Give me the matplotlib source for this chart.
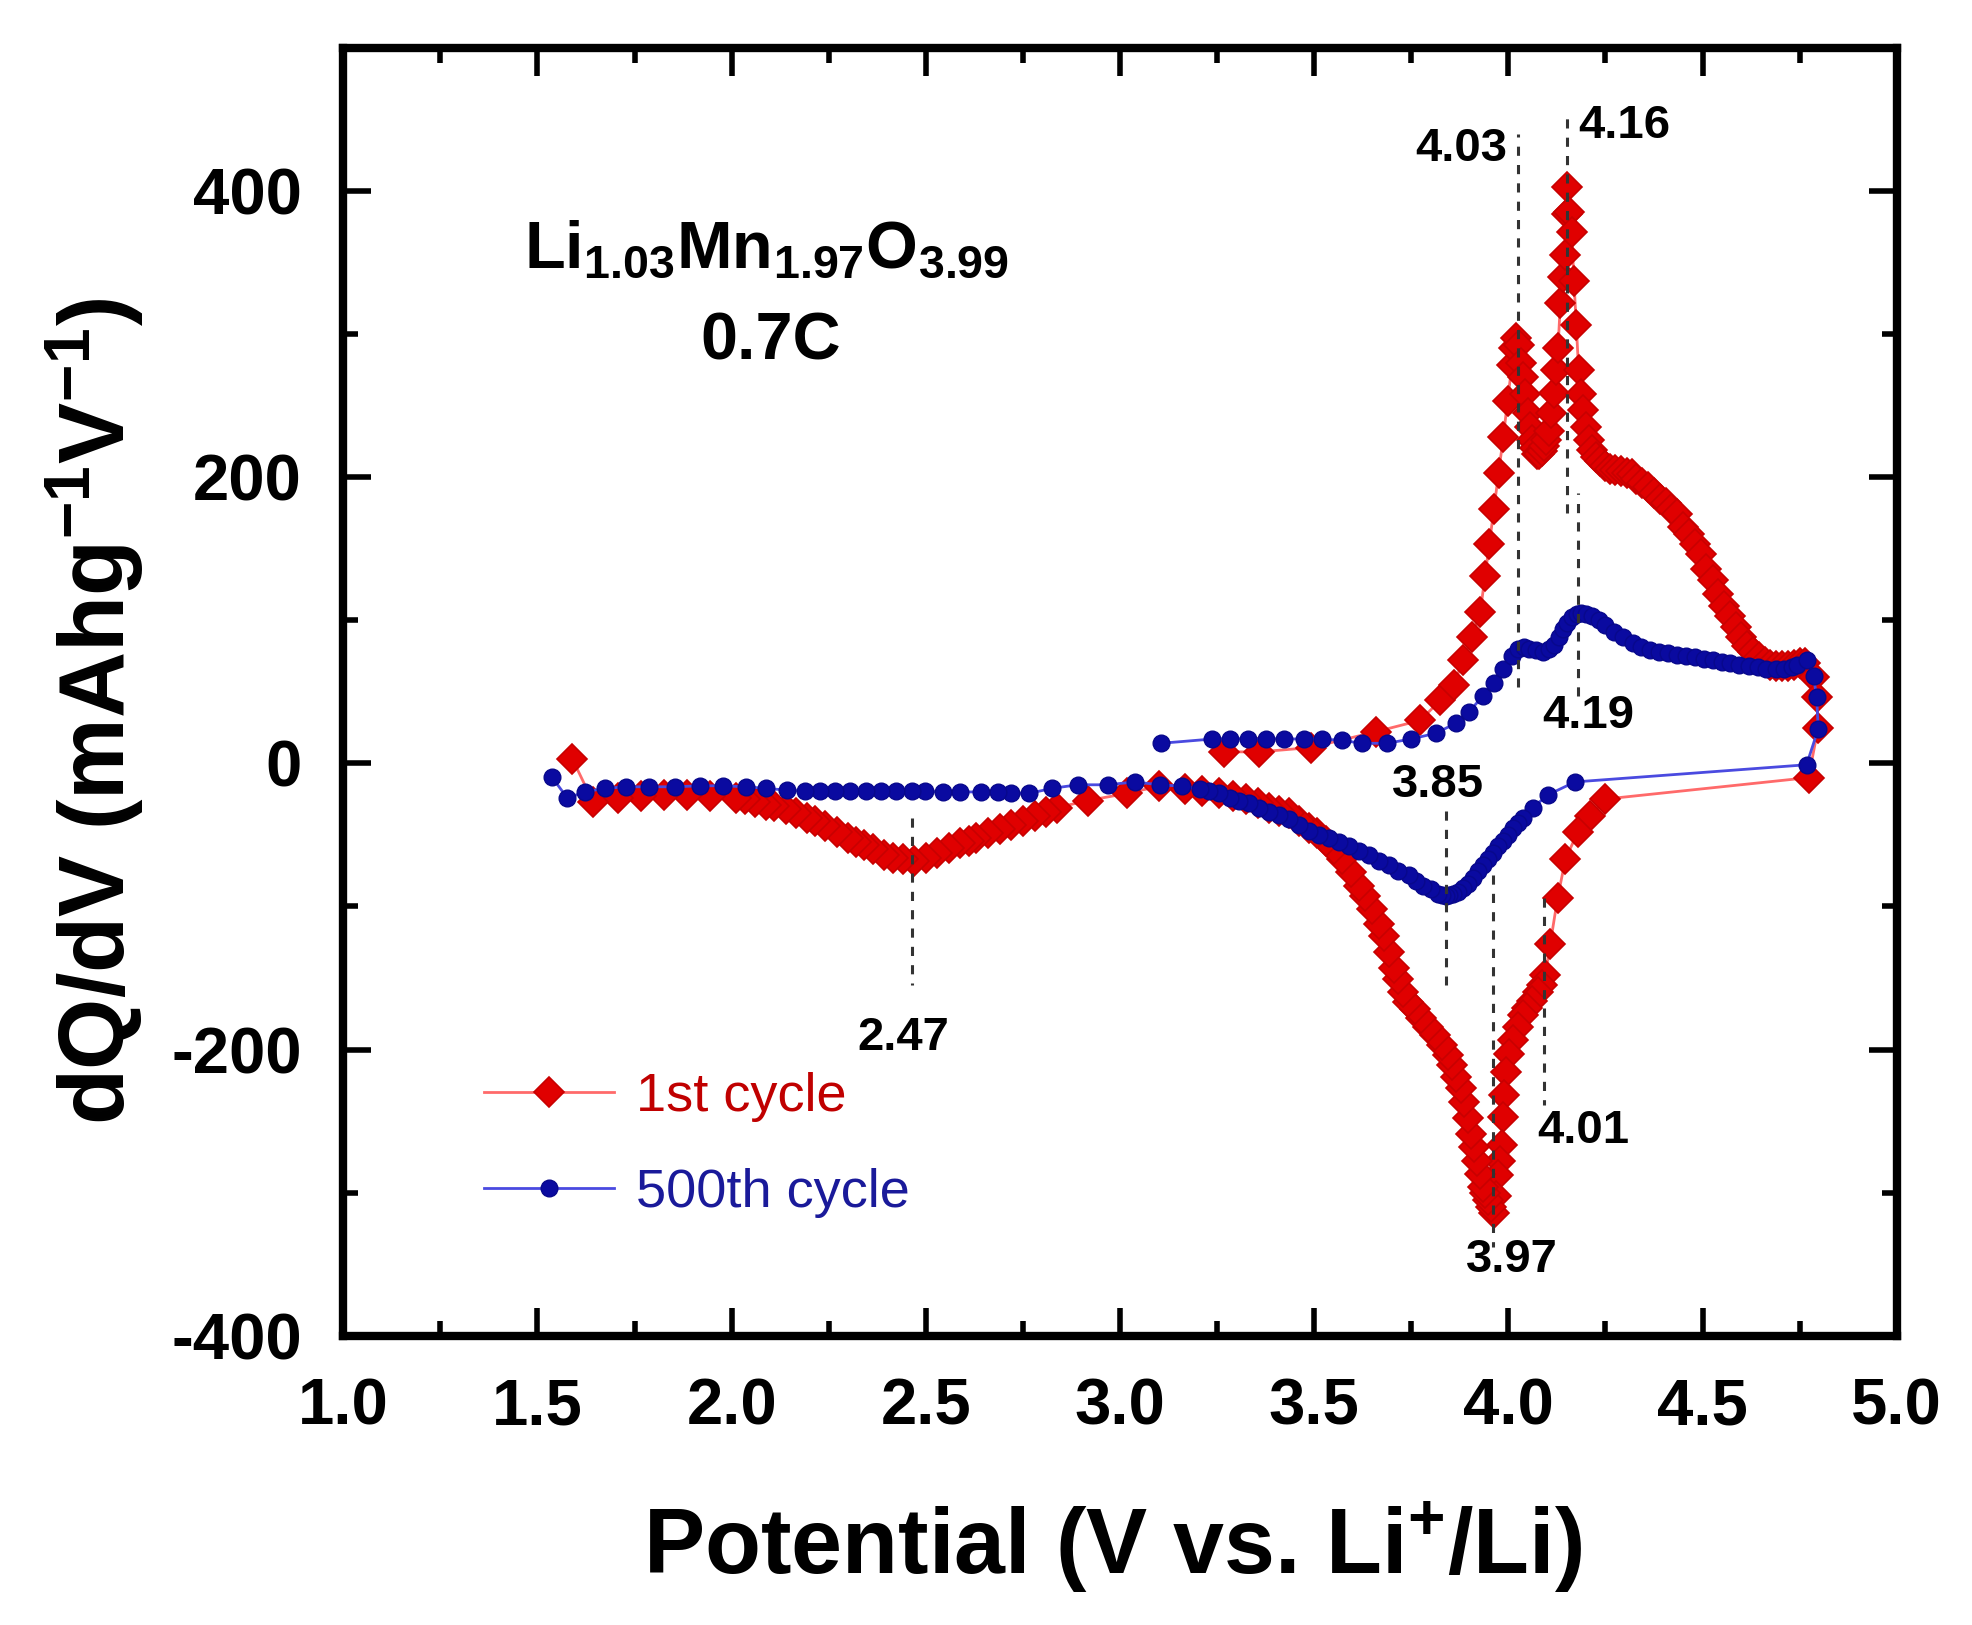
import matplotlib
matplotlib.use('Agg')
import matplotlib.pyplot as plt
from matplotlib.ticker import MultipleLocator

plt.rcParams['font.family'] = ['Liberation Sans', 'DejaVu Sans']
plt.rcParams['mathtext.default'] = 'regular'

# ---------------- data ----------------
# 1st cycle: charge branch then discharge branch
c1_v = [3.267, 3.359, 3.491, 3.658, 3.773, 3.825, 3.860, 3.883, 3.906, 3.928,
        3.940, 3.951, 3.963, 3.975, 3.987, 3.998, 4.009, 4.015, 4.021, 4.027,
        4.033, 4.038, 4.044, 4.050, 4.056, 4.062, 4.068, 4.074, 4.080, 4.086,
        4.092, 4.098, 4.105, 4.111, 4.117, 4.123, 4.128, 4.134, 4.140, 4.145,
        4.150, 4.152, 4.157, 4.163, 4.169, 4.175, 4.181, 4.186, 4.192, 4.200,
        4.208, 4.215, 4.225, 4.235, 4.248, 4.261, 4.275, 4.290, 4.305, 4.318,
        4.330, 4.345, 4.360, 4.376, 4.390, 4.405, 4.420, 4.434, 4.450, 4.465,
        4.481, 4.495, 4.510, 4.527, 4.540, 4.555, 4.571, 4.585, 4.600, 4.615,
        4.630, 4.645, 4.660, 4.675, 4.690, 4.705, 4.720, 4.735, 4.750, 4.765,
        4.786, 4.794, 4.798, 4.773,
        4.249, 4.211, 4.179, 4.147, 4.127, 4.108, 4.095, 4.086, 4.076, 4.060,
        4.048, 4.038, 4.025, 4.012, 4.002, 3.993, 3.989, 3.987, 3.984, 3.979,
        3.974, 3.968, 3.963, 3.955, 3.948, 3.941, 3.935, 3.928, 3.920, 3.912,
        3.904, 3.895, 3.886, 3.877, 3.866, 3.855, 3.844, 3.828, 3.811, 3.794,
        3.776, 3.759, 3.742, 3.730, 3.717, 3.705, 3.692, 3.679, 3.666, 3.649,
        3.632, 3.615, 3.594, 3.572, 3.551, 3.530, 3.508, 3.487, 3.460, 3.435,
        3.410, 3.384, 3.355, 3.325, 3.290, 3.256, 3.210, 3.167, 3.100, 3.019,
        2.917, 2.838, 2.810, 2.780, 2.750, 2.719, 2.690, 2.660, 2.630, 2.610,
        2.587, 2.560, 2.530, 2.500, 2.470, 2.440, 2.415, 2.391, 2.365, 2.340,
        2.320, 2.300, 2.270, 2.240, 2.215, 2.194, 2.165, 2.140, 2.110, 2.088,
        2.060, 2.035, 2.010, 1.944, 1.885, 1.826, 1.767, 1.708, 1.643, 1.590]
c1_q = [8, 8, 11, 22, 30, 44, 55, 72, 88, 106,
        131, 153, 178, 203, 228, 253, 278, 290, 297, 292,
        280, 270, 258, 245, 235, 226, 220, 216, 216, 218,
        222, 226, 232, 245, 259, 275, 290, 322, 340, 355,
        384, 403, 385, 371, 337, 306, 275, 258, 247, 235,
        226, 219, 214, 211, 208, 206, 205, 204, 203, 202,
        199, 196, 193, 189, 185, 182, 178, 174, 165, 160,
        153, 146, 136, 128, 118, 110, 103, 95, 88, 82,
        78, 74, 71, 69, 68, 68, 68, 69, 70, 70,
        60, 46, 25, -10,
        -25, -37, -48, -67, -94, -126, -148, -155, -160, -166,
        -171, -176, -184, -193, -203, -216, -232, -247, -267, -278,
        -288, -302, -314, -310, -305, -300, -296, -287, -278, -268,
        -259, -248, -237, -227, -219, -211, -204, -197, -190, -184,
        -178, -172, -167, -160, -151, -143, -132, -121, -112, -102,
        -93, -86, -76, -67, -60, -54, -49, -45, -40, -35,
        -33, -31, -28, -25, -23, -21, -19, -18, -16, -21,
        -26, -31, -34, -37, -40, -43, -46, -49, -52, -54,
        -56, -59, -63, -66, -68, -67, -66, -64, -60, -57,
        -55, -52, -48, -44, -40, -38, -35, -32, -30, -29,
        -27, -25, -24, -23, -22, -22, -23, -24, -27, 3]

# 500th cycle: charge branch then discharge branch
c500_v = [3.106, 3.238, 3.284, 3.330, 3.376, 3.422, 3.474, 3.520, 3.572, 3.623,
          3.687, 3.750, 3.813, 3.865, 3.899, 3.934, 3.963, 3.986, 4.009, 4.026,
          4.040, 4.054, 4.070, 4.089, 4.105, 4.118, 4.130, 4.141, 4.152, 4.164,
          4.176, 4.187, 4.200, 4.216, 4.233, 4.250, 4.273, 4.296, 4.320, 4.342,
          4.365, 4.388, 4.410, 4.435, 4.457, 4.480, 4.503, 4.526, 4.550, 4.572,
          4.595, 4.620, 4.642, 4.664, 4.688, 4.710, 4.730, 4.744, 4.768, 4.786,
          4.794, 4.798, 4.768,
          4.172, 4.102, 4.063, 4.038, 4.025, 4.012, 3.999, 3.986, 3.973, 3.961,
          3.948, 3.935, 3.922, 3.909, 3.896, 3.884, 3.871, 3.858, 3.848, 3.839,
          3.829, 3.820, 3.800, 3.781, 3.762, 3.743, 3.717, 3.692, 3.666, 3.640,
          3.615, 3.589, 3.563, 3.538, 3.512, 3.487, 3.461, 3.435, 3.410, 3.384,
          3.358, 3.333, 3.307, 3.282, 3.256, 3.230, 3.205, 3.160, 3.102, 3.038,
          2.968, 2.891, 2.825, 2.766, 2.720, 2.687, 2.641, 2.589, 2.543, 2.497,
          2.464, 2.424, 2.385, 2.345, 2.306, 2.267, 2.227, 2.188, 2.142, 2.089,
          2.037, 1.978, 1.919, 1.853, 1.787, 1.728, 1.675, 1.623, 1.577, 1.537]
c500_q = [14, 17, 17, 17, 17, 17, 17, 17, 16, 14,
          14, 17, 21, 28, 36, 47, 56, 66, 75, 80,
          81, 80, 79, 78, 80, 83, 88, 94, 98, 102,
          104, 105, 104, 103, 100, 97, 92, 88, 84, 81,
          79, 78, 77, 76, 75, 74, 73, 72, 71, 70,
          69, 68, 67, 66, 66, 66, 67, 69, 72, 61,
          46, 24, -1,
          -13, -22, -31, -38, -42, -45, -50, -54, -58, -63,
          -67, -71, -75, -80, -84, -87, -90, -91, -92, -93,
          -92, -91, -88, -86, -82, -78, -75, -71, -68, -64,
          -61, -58, -55, -52, -50, -47, -43, -39, -36, -34,
          -31, -28, -26, -24, -21, -19, -18, -16, -15, -13,
          -15, -15, -17.5, -21, -21, -20, -20, -20, -20, -19.5,
          -19.5, -19.5, -19.5, -19.5, -19.5, -19.5, -19.5, -19.5, -18.7, -17.5,
          -16.4, -15.7, -15.7, -16.4, -16.4, -16.4, -17.5, -19.8, -24.4, -9.5]

# peak marker lines (x, y_start, y_end) and labels
peak_line_x = [4.025, 4.151, 4.180, 3.839, 3.960, 4.093, 2.464]
peak_line_y0 = [53, 175, 47, -33, -78, -94, -38]
peak_line_y1 = [440, 452, 189, -155, -338, -239, -155]
peak_labels = ['4.03', '4.16', '4.19', '3.85', '3.97', '4.01', '2.47']
peak_label_x = [3.879, 4.299, 4.207, 3.820, 4.009, 4.194, 2.441]
peak_label_y = [429, 445, 33, -15, -347, -257, -192]

series_names = ['1st cycle', '500th cycle']
xticks = [1.0, 1.5, 2.0, 2.5, 3.0, 3.5, 4.0, 4.5, 5.0]
yticks = [-400, -200, 0, 200, 400]

# ---------------- figure ----------------
fig = plt.figure(figsize=(9.86, 8.125), dpi=200)
ax = fig.add_axes([0.1741, 0.1780, 0.7877, 0.7926])

red_f = '#e00000'
red_e = '#c80000'
red_l = '#ff6a6a'
blue_f = '#0a0aa0'
blue_e = '#08088c'
blue_l = '#4a4ae0'

l1, = ax.plot(c1_v, c1_q, color=red_l, lw=1.0, marker='D', ms=7.8,
              mfc=red_f, mec=red_e, mew=0.6, zorder=3, label=series_names[0])
l2, = ax.plot(c500_v, c500_q, color=blue_l, lw=1.0, marker='o', ms=6,
              mfc=blue_f, mec=blue_e, mew=0.5, zorder=4, label=series_names[1])

for x, y0, y1 in zip(peak_line_x, peak_line_y0, peak_line_y1):
    ax.plot([x, x], [y0, y1], color='#333333', lw=1.1, ls=(0, (3, 3)), zorder=5)

for t, x, y in zip(peak_labels, peak_label_x, peak_label_y):
    ax.text(x, y, t, fontsize=17, fontweight='bold', ha='center', va='center',
            zorder=6)

ax.text(2.09, 358, r'Li$_{1.03}$Mn$_{1.97}$O$_{3.99}$', fontsize=24,
        fontweight='bold', ha='center', va='center')
ax.text(2.10, 294, '0.7C', fontsize=24, fontweight='bold', ha='center',
        va='center')

ax.set_xlim(1.0, 5.0)
ax.set_ylim(-400, 500)
ax.set_xticks(xticks)
ax.set_yticks(yticks)
ax.set_xticklabels([f'{v:.1f}' for v in xticks])
ax.set_yticklabels([str(v) for v in yticks])
ax.xaxis.set_minor_locator(MultipleLocator(0.25))
ax.yaxis.set_minor_locator(MultipleLocator(100))

for s in ax.spines.values():
    s.set_linewidth(3)
ax.tick_params(which='both', direction='in', top=True, right=True)
ax.tick_params(which='major', length=10, width=2, pad=15)
ax.tick_params(which='minor', length=5.5, width=2)
for lab in ax.get_xticklabels() + ax.get_yticklabels():
    lab.set_fontsize(23.5)
    lab.set_fontweight('bold')

ax.set_xlabel(r'Potential (V vs. Li$^{+}$/Li)', fontsize=33, fontweight='bold')
ax.set_ylabel(r'dQ/dV (mAhg$^{-1}$V$^{-1}$)', fontsize=33, fontweight='bold')
ax.xaxis.label.set_va('center')
ax.yaxis.label.set_va('center')
ax.xaxis.set_label_coords(0.495, -0.164)
ax.yaxis.set_label_coords(-0.160, 0.485)

leg = ax.legend(handles=[l1, l2], loc='center left',
                bbox_to_anchor=(0.0907, 0.148), frameon=False, borderpad=0,
                borderaxespad=0, handlelength=2.4, handletextpad=0.4,
                labelspacing=0.85, prop={'size': 19.5})
for txt, c in zip(leg.get_texts(), ['#c00000', '#1a1a9a']):
    txt.set_color(c)

fig.savefig('out.png', dpi=200)
